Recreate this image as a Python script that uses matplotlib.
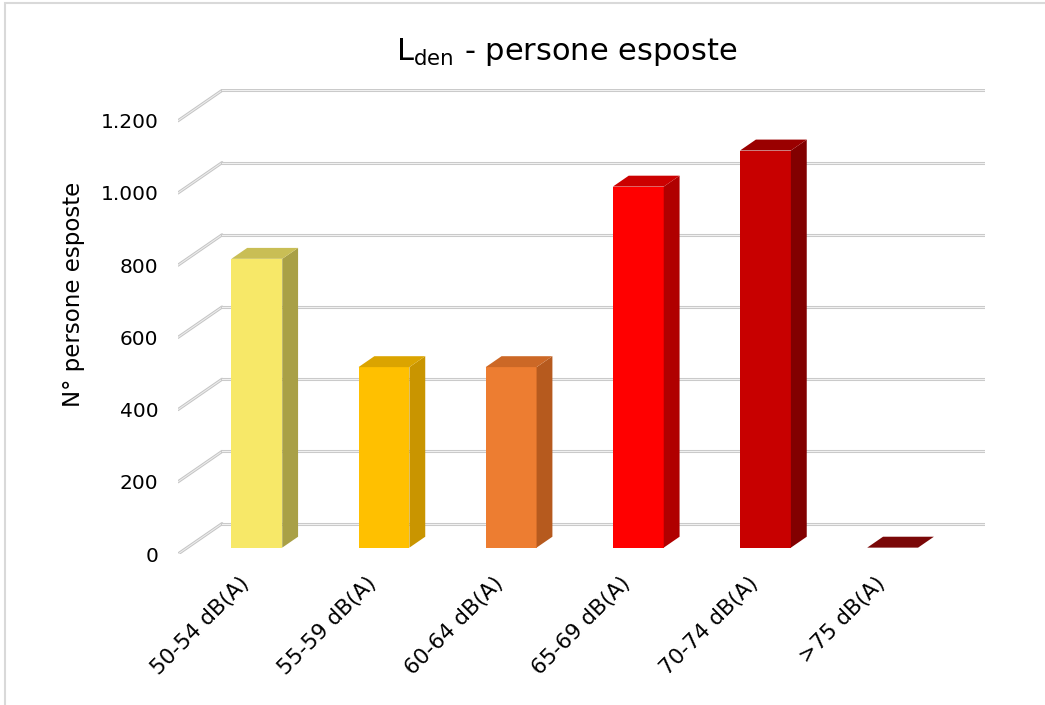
import matplotlib.pyplot as plt
from matplotlib.patches import Polygon, Rectangle

plt.rcParams['font.family'] = 'DejaVu Sans'
plt.rcParams['mathtext.fontset'] = 'custom'
plt.rcParams['mathtext.rm'] = 'DejaVu Sans'

# dati
categorie = ['50-54 dB(A)', '55-59 dB(A)', '60-64 dB(A)', '65-69 dB(A)', '70-74 dB(A)', '>75 dB(A)']
persone = [800, 500, 500, 1000, 1100, 0]
yticks = [0, 200, 400, 600, 800, 1000, 1200]
ytick_labels = ['0', '200', '400', '600', '800', '1.000', '1.200']

# colori: fronte, lato, sopra
col_front = ['#F7E868', '#FFC000', '#ED7D31', '#FF0000', '#C80000', '#8A0A0A']
col_side = ['#A9A046', '#C99500', '#B65A1E', '#B00000', '#820000', '#5A0000']
col_top = ['#C9BE55', '#DBA400', '#CC6826', '#CC0000', '#9A0000', '#7A0808']

# finto 3D (profondita in unita dati)
ddx, ddy = 0.346, 84
f0, f1 = 0.21, 0.57
w = 0.40
shift = 0.047

fig = plt.figure(figsize=(10.45, 7.05), dpi=100)
ax = fig.add_axes([178 / 1045, (705 - 554) / 705, (985 - 178) / 1045, 465 / 705])
ax.set_xlim(-0.5, 5.5 + ddx)
ax.set_ylim(0, 1288)
for s in ax.spines.values():
    s.set_visible(False)

# griglia: parete laterale + parete di fondo
for v in yticks:
    ax.plot([-0.5, -0.5 + ddx], [v, v + ddy], color='#c4c4c4', lw=2.2, solid_capstyle='round', zorder=1)
    ax.plot([-0.5, -0.5 + ddx], [v, v + ddy], color='#ececec', lw=0.8, zorder=1)
    ax.plot([-0.5 + ddx, 5.5 + ddx], [v + ddy, v + ddy], color='#c8c8c8', lw=2.2, zorder=1)
    ax.plot([-0.5 + ddx, 5.5 + ddx], [v + ddy, v + ddy], color='#f0f0f0', lw=0.8, zorder=1)

d = f1 - f0
for i, v in enumerate(persone):
    xl = i - w / 2 + shift + f0 * ddx
    xr = xl + w
    b = f0 * ddy
    if v > 0:
        ax.bar(xl, v, width=w, bottom=b, align='edge', color=col_front[i], zorder=3)
        ax.add_patch(Polygon([(xr, b), (xr, b + v), (xr + d * ddx, b + v + d * ddy), (xr + d * ddx, b + d * ddy)],
                             closed=True, facecolor=col_side[i], edgecolor='none', zorder=3))
    ax.add_patch(Polygon([(xl, b + v), (xr, b + v), (xr + d * ddx, b + v + d * ddy), (xl + d * ddx, b + v + d * ddy)],
                         closed=True, facecolor=col_top[i], edgecolor='none', zorder=3))

ax.set_yticks(yticks)
ax.set_yticklabels(ytick_labels, fontsize=14.5)
ax.tick_params(axis='y', length=0, pad=14)
ax.set_xticks([i + shift + f0 * ddx - 0.14 for i in range(len(categorie))])
ax.set_xticklabels(categorie, fontsize=15.5, rotation=45, ha='right', va='top', rotation_mode='anchor')
ax.tick_params(axis='x', length=0, pad=14)

ax.set_ylabel('N° persone esposte', fontsize=16.5)
ax.yaxis.set_label_coords(-0.115, (554 - 294) / 465)
fig.text(567 / 1045, 1 - 52 / 705, r'L$_{\mathrm{den}}$ - persone esposte', fontsize=22, ha='center', va='center')

# cornice
fig.patches.append(Rectangle((5 / 1045, -0.01), 1.2, 1 - 3 / 705 + 0.01, transform=fig.transFigure,
                             fill=False, edgecolor='#d9d9d9', lw=1.5))

fig.savefig('out.png', dpi=100)
